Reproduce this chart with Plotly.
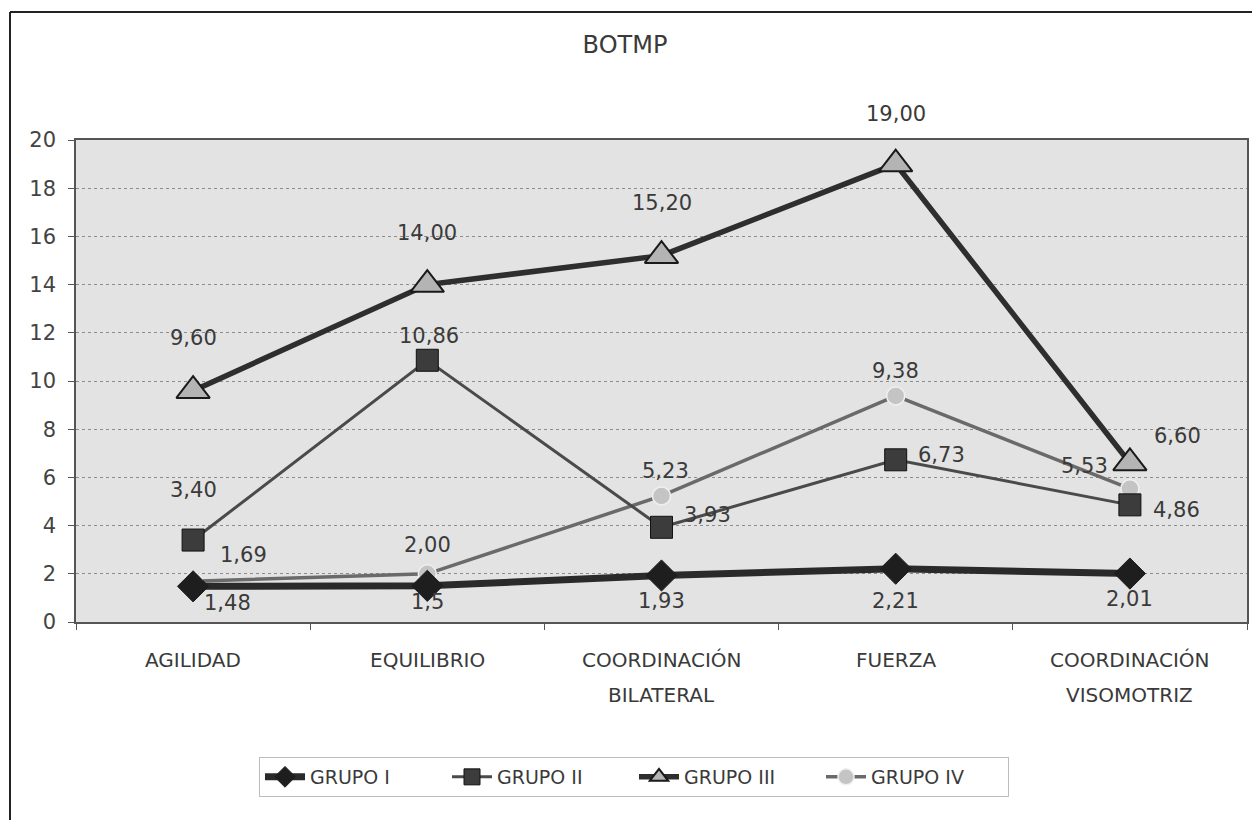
import plotly.graph_objects as go

# ---------------- data ----------------
categories = ["AGILIDAD", "EQUILIBRIO", "COORDINACIÓN\nBILATERAL", "FUERZA", "COORDINACIÓN\nVISOMOTRIZ"]
series_names = ["GRUPO I", "GRUPO II", "GRUPO III", "GRUPO IV"]
grupo_1 = [1.48, 1.5, 1.93, 2.21, 2.01]
grupo_2 = [3.40, 10.86, 3.93, 6.73, 4.86]
grupo_3 = [9.60, 14.00, 15.20, 19.00, 6.60]
grupo_4 = [1.69, 2.00, 5.23, 9.38, 5.53]
label_text_1 = ["1,48", "1,5", "1,93", "2,21", "2,01"]
label_text_2 = ["3,40", "10,86", "3,93", "6,73", "4,86"]
label_text_3 = ["9,60", "14,00", "15,20", "19,00", "6,60"]
label_text_4 = ["1,69", "2,00", "5,23", "9,38", "5,53"]
y_ticks = [0, 2, 4, 6, 8, 10, 12, 14, 16, 18, 20]
title_text = "BOTMP"

# ---------------- styles ----------------
FONT = "DejaVu Sans"
TXT = "#3a3a3a"
W, H = 1252, 820
L, R, T, B = 76, 5, 140, 198

styles = [
    dict(line=dict(color="#2a2a2a", width=7),
         marker=dict(symbol="diamond", size=24, color="#1e1e1e", line=dict(color="#1e1e1e", width=1))),
    dict(line=dict(color="#4a4a4a", width=3),
         marker=dict(symbol="square", size=22, color="#3c3c3c", line=dict(color="#111", width=1))),
    dict(line=dict(color="#2e2e2e", width=5.5),
         marker=dict(symbol="triangle-up", size=29, color="#b4b4b4", line=dict(color="#1a1a1a", width=2))),
    dict(line=dict(color="#6a6a6a", width=3.5),
         marker=dict(symbol="circle", size=18, color="#c4c4c4", line=dict(color="#f0f0f0", width=1.5))),
]
# label pixel offsets (dx, dy up-positive) per point
offsets = [
    [(34, -17), (0, -16), (0, -26), (0, -32), (0, -25)],
    [(0, 50), (2, 24), (46, 12), (46, 5), (47, -5)],
    [(0, 53), (0, 52), (0, 53), (0, 50), (48, 27)],
    [(50, 26), (0, 29), (4, 25), (0, 25), (-45, 23)],
]

all_series = [grupo_1, grupo_2, grupo_3, grupo_4]
all_labels = [label_text_1, label_text_2, label_text_3, label_text_4]
cat_keys = [c.replace("\n", " ") for c in categories]

fig = go.Figure()
draw_order = [3, 1, 2, 0]
for i in draw_order:
    fig.add_trace(go.Scatter(
        x=cat_keys, y=all_series[i], name=series_names[i], mode="lines+markers",
        line=styles[i]["line"], marker=styles[i]["marker"], legendrank=i + 1,
    ))

annotations = []
for i in range(4):
    for j, (xv, yv) in enumerate(zip(cat_keys, all_series[i])):
        dx, dy = offsets[i][j]
        annotations.append(dict(
            x=xv, y=yv, xref="x", yref="y", text=all_labels[i][j], showarrow=False,
            xshift=dx, yshift=dy, font=dict(family=FONT, size=21, color=TXT),
        ))

# category labels (two-line with wide spacing)
for key, cat in zip(cat_keys, categories):
    parts = cat.split("\n")
    for k, part in enumerate(parts):
        annotations.append(dict(
            x=key, y=0, xref="x", yref="paper", text=part, showarrow=False,
            yanchor="middle", yshift=-38 - 35 * k,
            font=dict(family=FONT, size=20, color=TXT),
        ))

pw = W - L - R
ph = H - T - B
def px(xp):
    return (xp - L) / pw
def py(yp):
    return (H - B - yp) / ph

shapes = [
    dict(type="line", xref="paper", yref="paper", x0=px(10), x1=px(10), y0=py(12), y1=py(820),
         line=dict(color="#222", width=2)),
    dict(type="line", xref="paper", yref="paper", x0=px(10), x1=px(1252), y0=py(12), y1=py(12),
         line=dict(color="#222", width=2)),
]

fig.update_layout(
    width=W, height=H,
    margin=dict(l=L, r=R, t=T, b=B, autoexpand=False),
    paper_bgcolor="white",
    plot_bgcolor="#e3e3e3",
    font=dict(family=FONT, color=TXT),
    title=dict(text=title_text, x=px(625), xanchor="center", xref="paper",
               y=1 - 45 / H, yanchor="middle", yref="container",
               font=dict(family=FONT, size=24, color=TXT)),
    showlegend=True,
    legend=dict(orientation="h", x=px(634), xanchor="center", y=py(777), yanchor="middle",
                bgcolor="white", bordercolor="#bdbdbd", borderwidth=1,
                font=dict(family=FONT, size=19, color=TXT), itemwidth=40,
                entrywidth=132, entrywidthmode="pixels",
                traceorder="normal"),
    annotations=annotations,
    shapes=shapes,
)
fig.update_xaxes(type="category", categoryorder="array", categoryarray=cat_keys,
                 range=[-0.5, 4.5], showticklabels=False, showgrid=False,
                 showline=True, linecolor="#555", linewidth=1.5, mirror=True,
                 ticks="outside", tickson="boundaries", ticklen=6, tickcolor="#555",
                 zeroline=False)
fig.update_yaxes(range=[0, 20], tickvals=y_ticks, ticks="outside", ticklen=6, tickcolor="#555",
                 tickfont=dict(family=FONT, size=21, color="#444"), ticklabelstandoff=8,
                 showgrid=True, gridcolor="#8c8c8c", griddash="dot", gridwidth=1,
                 showline=True, linecolor="#555", linewidth=1.5, mirror=True, zeroline=False)

fig.write_html("out.html", config={"displayModeBar": False},
               post_script="document.body.style.margin='0';document.body.style.padding='0';")
